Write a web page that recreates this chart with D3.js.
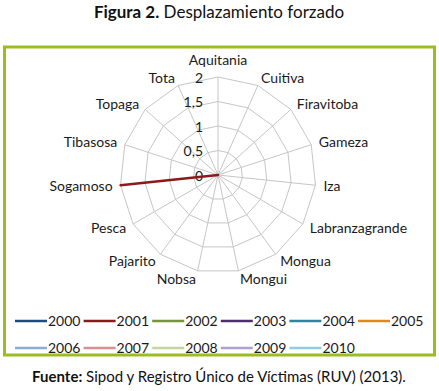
<!DOCTYPE html>
<html><head><meta charset="utf-8">
<script src="https://cdn.jsdelivr.net/npm/d3@7"></script>
<style>body{margin:0;background:#fff}svg{display:block}</style>
</head><body>
<svg id="c" width="439" height="391"></svg>
<script>
const categories = ["Aquitania","Cuitiva","Firavitoba","Gameza","Iza","Labranzagrande","Mongua","Mongui","Nobsa","Pajarito","Pesca","Sogamoso","Tibasosa","Topaga","Tota"];
const years = ["2000","2001","2002","2003","2004","2005","2006","2007","2008","2009","2010"];
const colors = ["#1f4a7d","#8c1a1a","#77933c","#4a2f6b","#2f859b","#e0861a","#8eabd6","#d9908e","#c2d69a","#b29fcc","#8fcde0"];
const s2000 = [0,0,0,0,0,0,0,0,0,0,0,0,0,0,0];
const s2001 = [0,0,0,0,0,0,0,0,0,0,0,2,0,0,0];
const s2002 = [0,0,0,0,0,0,0,0,0,0,0,0,0,0,0];
const s2003 = [0,0,0,0,0,0,0,0,0,0,0,0,0,0,0];
const s2004 = [0,0,0,0,0,0,0,0,0,0,0,0,0,0,0];
const s2005 = [0,0,0,0,0,0,0,0,0,0,0,0,0,0,0];
const s2006 = [0,0,0,0,0,0,0,0,0,0,0,0,0,0,0];
const s2007 = [0,0,0,0,0,0,0,0,0,0,0,0,0,0,0];
const s2008 = [0,0,0,0,0,0,0,0,0,0,0,0,0,0,0];
const s2009 = [0,0,0,0,0,0,0,0,0,0,0,0,0,0,0];
const s2010 = [0,0,0,0,0,0,0,0,0,0,0,0,0,0,0];
const seriesValues = [s2000,s2001,s2002,s2003,s2004,s2005,s2006,s2007,s2008,s2009,s2010];
const ticks = [0,0.5,1,1.5,2];
const tickLabels = ["0","0,5","1","1,5","2"];

const svg = d3.select("#c");
const cx = 218, cy = 175, R = 98;
const lblFont = "Lato, 'Liberation Sans', sans-serif";
const r = d3.scaleLinear().domain([0,2]).range([0,R]);
const ang = d3.scaleLinear().domain([0,categories.length]).range([0,2*Math.PI]);
const pt = (i,v)=>[cx + r(v)*Math.sin(ang(i)), cy - r(v)*Math.cos(ang(i))];

// title
const t = svg.append("text").attr("x",219).attr("y",18).attr("text-anchor","middle")
  .style("font-family","Lato, sans-serif").style("font-size","17px").attr("fill","#111");
t.append("tspan").attr("font-weight","bold").text("Figura 2.");
t.append("tspan").text(" Desplazamiento forzado");

// frame
svg.append("rect").attr("x",4.5).attr("y",47).attr("width",430).attr("height",308)
  .attr("fill","#fff").attr("stroke","#9bbd1f").attr("stroke-width",3);

// grid
const g = svg.append("g");
ticks.slice(1).forEach(tv=>{
  g.append("polygon").attr("points", categories.map((c,i)=>pt(i,tv).join(",")).join(" "))
    .attr("fill","none").attr("stroke","#c6c6c6").attr("stroke-width",1);
});
categories.forEach((c,i)=>{
  const p = pt(i,2);
  g.append("line").attr("x1",cx).attr("y1",cy).attr("x2",p[0]).attr("y2",p[1])
    .attr("stroke","#c6c6c6").attr("stroke-width",1);
});

// tick labels
ticks.forEach((tv,k)=>{
  svg.append("text").attr("x",cx-15).attr("y",cy - r(tv)).attr("dy","0.4em")
    .attr("text-anchor","end").style("font-family",lblFont).style("font-size","14px")
    .attr("fill","#1a1a1a").text(tickLabels[k]);
});

// category labels
categories.forEach((c,i)=>{
  const s = Math.sin(ang(i)), co = Math.cos(ang(i));
  const x = cx + (R+8)*s, y = cy - (R+8)*co;
  const txt = svg.append("text").attr("x",x).attr("y",y)
    .style("font-family",lblFont).style("font-size","14px").attr("fill","#1a1a1a").text(c);
  if (Math.abs(s) < 0.05) { txt.attr("text-anchor","middle").attr("dy","-0.3em"); }
  else { txt.attr("text-anchor", s>0 ? "start":"end").attr("dy","0.35em"); }
});

// series
const line = d3.lineRadial().angle((d,i)=>ang(i)).radius(d=>r(d)).curve(d3.curveLinearClosed);
seriesValues.forEach((vals,k)=>{
  svg.append("path").attr("transform",`translate(${cx},${cy})`).attr("d",line(vals))
    .attr("fill","none").attr("stroke",colors[k]).attr("stroke-width",2.5).attr("stroke-linejoin","round");
});

// legend
const rows = [321, 348];
years.forEach((yr,k)=>{
  const row = Math.floor(k/6), col = k%6;
  const x0 = 15 + col*68.6, y0 = rows[row];
  svg.append("line").attr("x1",x0).attr("x2",x0+32).attr("y1",y0).attr("y2",y0)
    .attr("stroke",colors[k]).attr("stroke-width",2.5);
  svg.append("text").attr("x",x0+33).attr("y",y0).attr("dy","0.35em")
    .style("font-family",lblFont).style("font-size","14px").attr("fill","#1a1a1a").text(yr);
});

// source
const f = svg.append("text").attr("x",219).attr("y",382).attr("text-anchor","middle")
  .style("font-family","Lato, sans-serif").style("font-size","15px").attr("fill","#111");
f.append("tspan").attr("font-weight","bold").text("Fuente:");
f.append("tspan").text(" Sipod y Registro Único de Víctimas (RUV) (2013).");
</script>
</body></html>
